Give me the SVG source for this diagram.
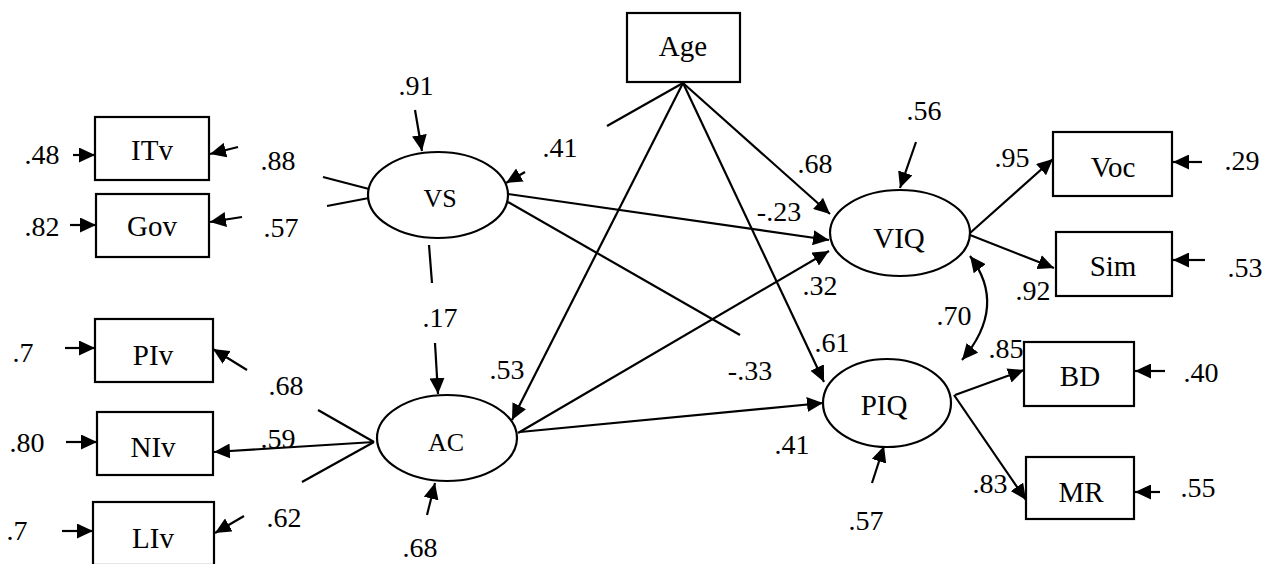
<svg xmlns="http://www.w3.org/2000/svg" width="1273" height="564" viewBox="0 0 1273 564">
<style>
  .bg { fill: #ffffff; }
  .box { fill: #ffffff; stroke: #000; stroke-width: 2.2; }
  .ell { fill: #ffffff; stroke: #000; stroke-width: 2.2; }
  .ln { stroke: #000; stroke-width: 2.2; fill: none; }
  .ar { stroke: #000; stroke-width: 2.2; fill: none; marker-end: url(#ah); }
  .dbl { stroke: #000; stroke-width: 2.2; fill: none; marker-end: url(#ah); marker-start: url(#ah); }
  text { fill: #000; text-anchor: middle; font-family: "Liberation Serif", "DejaVu Serif", serif; }
  .num { font-size: 28px; }
  .lbl { font-size: 29px; }
  .lbs { font-size: 26px; }
</style>
<defs>
  <marker id="ah" markerUnits="userSpaceOnUse" markerWidth="17" markerHeight="15" refX="16" refY="7.5" orient="auto-start-reverse">
    <path d="M0,0 L16,7.5 L0,15 z" fill="#000"/>
  </marker>
</defs>
<rect class="bg" x="0" y="0" width="1273" height="564"/>

<g id="connectors">
  <line class="ar" x1="73" y1="155" x2="95" y2="155"/>
  <line class="ar" x1="70" y1="225" x2="96" y2="225"/>
  <line class="ar" x1="238" y1="147" x2="210" y2="154"/>
  <line class="ar" x1="242" y1="217" x2="210" y2="222"/>
  <line class="ar" x1="415" y1="110" x2="422" y2="151"/>
  <line class="ar" x1="525" y1="172" x2="506" y2="183"/>
  <line class="ar" x1="65" y1="348" x2="95" y2="348"/>
  <line class="ar" x1="66" y1="442" x2="97" y2="442"/>
  <line class="ar" x1="62" y1="531" x2="93" y2="531"/>
  <line class="ar" x1="247" y1="370" x2="213" y2="349"/>
  <line class="ar" x1="244" y1="516" x2="215" y2="533"/>
  <line class="ar" x1="427" y1="515" x2="435" y2="483"/>
  <line class="ar" x1="435" y1="343" x2="438" y2="394"/>
  <line class="ar" x1="916" y1="142" x2="900" y2="188"/>
  <line class="ar" x1="872" y1="483" x2="884" y2="446"/>
  <line class="ar" x1="1202" y1="162" x2="1173" y2="162"/>
  <line class="ar" x1="1205" y1="260" x2="1173" y2="260"/>
  <line class="ar" x1="1165" y1="371" x2="1135" y2="371"/>
  <line class="ar" x1="1160" y1="492" x2="1135" y2="492"/>

  <line class="ln" x1="323" y1="177" x2="369" y2="189"/>
  <line class="ln" x1="327" y1="206" x2="369" y2="198"/>
  <line class="ln" x1="683" y1="83" x2="607" y2="126"/>
  <line class="ln" x1="508" y1="202" x2="740" y2="335"/>
  <line class="ln" x1="429" y1="245" x2="432" y2="283"/>
  <line class="ln" x1="318" y1="410" x2="374" y2="442"/>
  <line class="ln" x1="374" y1="442" x2="302" y2="482"/>

  <line class="ar" x1="683" y1="83" x2="512" y2="420"/>
  <line class="ar" x1="683" y1="83" x2="824" y2="382"/>
  <line class="ar" x1="683" y1="83" x2="830" y2="214"/>
  <line class="ar" x1="508" y1="194" x2="829" y2="240"/>
  <line class="ar" x1="518" y1="433" x2="829" y2="251"/>
  <line class="ar" x1="520" y1="432" x2="823" y2="403"/>
  <line class="ar" x1="374" y1="442" x2="214" y2="452"/>
  <line class="ar" x1="970" y1="233" x2="1053" y2="159"/>
  <line class="ar" x1="970" y1="235" x2="1054" y2="268"/>
  <line class="ar" x1="955" y1="395" x2="1024" y2="370"/>
  <line class="ar" x1="954" y1="395" x2="1026" y2="500"/>
  <path class="dbl" d="M970,256 Q1008,306 962,360"/>
</g>

<g id="node-ITv"><rect class="box" x="95" y="117" width="114" height="63"/><text class="lbl" x="152" y="160">ITv</text></g>
<g id="node-Gov"><rect class="box" x="96" y="194" width="113" height="63"/><text class="lbl" x="152" y="236">Gov</text></g>
<g id="node-PIv"><rect class="box" x="95" y="319" width="118" height="63"/><text class="lbl" x="153" y="365">PIv</text></g>
<g id="node-NIv"><rect class="box" x="97" y="412" width="116" height="63"/><text class="lbl" x="153" y="457">NIv</text></g>
<g id="node-LIv"><rect class="box" x="93" y="502" width="121" height="63"/><text class="lbl" x="153" y="548">LIv</text></g>
<g id="node-Age"><rect class="box" x="627" y="13" width="113" height="69"/><text class="lbl" x="683" y="56">Age</text></g>
<g id="node-Voc"><rect class="box" x="1053" y="132" width="119" height="64"/><text class="lbl" x="1113" y="177">Voc</text></g>
<g id="node-Sim"><rect class="box" x="1056" y="232" width="116" height="64"/><text class="lbl" x="1113" y="276">Sim</text></g>
<g id="node-BD"><rect class="box" x="1024" y="342" width="110" height="64"/><text class="lbl" x="1080" y="386">BD</text></g>
<g id="node-MR"><rect class="box" x="1026" y="457" width="108" height="62"/><text class="lbl" x="1081" y="502">MR</text></g>

<g id="node-VS"><ellipse class="ell" cx="438" cy="195" rx="70" ry="43"/><text class="lbs" x="440" y="207">VS</text></g>
<g id="node-VIQ"><ellipse class="ell" cx="900" cy="233" rx="70" ry="43"/><text class="lbl" x="899" y="248">VIQ</text></g>
<g id="node-PIQ"><ellipse class="ell" cx="887" cy="403" rx="64" ry="44"/><text class="lbl" x="884" y="415">PIQ</text></g>
<g id="node-AC"><ellipse class="ell" cx="447" cy="438" rx="70" ry="43"/><text class="lbs" x="446" y="451">AC</text></g>

<g id="labels">
  <text class="num" x="42" y="164">.48</text>
  <text class="num" x="42" y="236">.82</text>
  <text class="num" x="278" y="170">.88</text>
  <text class="num" x="281" y="237">.57</text>
  <text class="num" x="416" y="95">.91</text>
  <text class="num" x="560" y="157">.41</text>
  <text class="num" x="815" y="173">.68</text>
  <text class="num" x="779" y="221">-.23</text>
  <text class="num" x="820" y="295">.32</text>
  <text class="num" x="832" y="352">.61</text>
  <text class="num" x="750" y="380">-.33</text>
  <text class="num" x="792" y="454">.41</text>
  <text class="num" x="866" y="530">.57</text>
  <text class="num" x="954" y="325">.70</text>
  <text class="num" x="924" y="120">.56</text>
  <text class="num" x="1012" y="167">.95</text>
  <text class="num" x="1033" y="300">.92</text>
  <text class="num" x="1242" y="170">.29</text>
  <text class="num" x="1245" y="277">.53</text>
  <text class="num" x="1006" y="358">.85</text>
  <text class="num" x="1201" y="382">.40</text>
  <text class="num" x="990" y="493">.83</text>
  <text class="num" x="1198" y="497">.55</text>
  <text class="num" x="440" y="327">.17</text>
  <text class="num" x="507" y="379">.53</text>
  <text class="num" x="420" y="557">.68</text>
  <text class="num" x="23" y="362">.7</text>
  <text class="num" x="286" y="395">.68</text>
  <text class="num" x="27" y="452">.80</text>
  <text class="num" x="278" y="448">.59</text>
  <text class="num" x="17" y="540">.7</text>
  <text class="num" x="284" y="527">.62</text>
</g>
</svg>
